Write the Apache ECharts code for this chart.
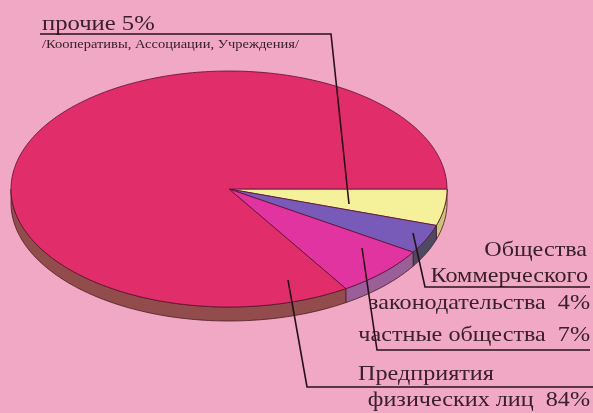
<!DOCTYPE html>
<html>
<head>
<meta charset="utf-8">
<script src="https://cdn.jsdelivr.net/npm/echarts@6/dist/echarts.min.js"></script>
<style>
  html, body { margin: 0; padding: 0; background: #f0a8c4; }
  #main { width: 593px; height: 413px; }
</style>
</head>
<body>
<div id="main"></div>
<script>
// slices, clockwise from 3 o'clock
const categories = ["прочие", "Общества Коммерческого законодательства", "частные общества", "Предприятия физических лиц"];
const shares = [5, 4, 7, 84];

const topColors = ["#f5f09a", "#785ab9", "#e134a0", "#e12d69"];
const sideColors = ["#c9c47a", "#4e4a62", "#9a5f98", "#934c4c"];

var chart = echarts.init(document.getElementById("main"), null, { renderer: "canvas" });

// ellipse layout
const cx = 229, cy = 189, rx = 218, ry = 118, depth = 14;
const total = shares.reduce((a, b) => a + b, 0);

function sliceAngles(idx) {
  let before = 0;
  for (let i = 0; i < idx; i++) before += shares[i];
  const a0 = (before / total) * Math.PI * 2;
  const a1 = ((before + shares[idx]) / total) * Math.PI * 2;
  return [a0, a1];
}

function arcPoints(a0, a1, dy) {
  const pts = [];
  const steps = Math.max(2, Math.ceil((a1 - a0) / 0.02));
  for (let k = 0; k <= steps; k++) {
    const t = a0 + ((a1 - a0) * k) / steps;
    pts.push([cx + rx * Math.cos(t), cy + ry * Math.sin(t) + dy]);
  }
  return pts;
}

function renderTop(params, api) {
  const [a0, a1] = sliceAngles(params.dataIndex);
  const pts = [[cx, cy]].concat(arcPoints(a0, a1, 0));
  return {
    type: "polygon",
    shape: { points: pts },
    style: { fill: topColors[params.dataIndex], stroke: "#5a1030", lineWidth: 0.8 },
  };
}

function renderSide(params, api) {
  let [a0, a1] = sliceAngles(params.dataIndex);
  const s = Math.max(a0, 0);
  const e = Math.min(a1, Math.PI);
  if (e <= s) return null;
  const upper = arcPoints(s, e, 0);
  const lower = arcPoints(s, e, depth).reverse();
  return {
    type: "polygon",
    shape: { points: upper.concat(lower) },
    style: { fill: sideColors[params.dataIndex], stroke: "#4a1a24", lineWidth: 0.8 },
  };
}

const labelFont = "Liberation Serif";
const labelColor = "#3a2028";
const lineColor = "#2a1018";

// text placed by baseline; scaled a bit wide like the printed original
function txt(text, x, baseline, size, align, sx) {
  return {
    type: "text",
    x: x,
    y: baseline - 0.8 * size,
    scaleX: sx || 1.15,
    style: {
      text: text,
      fontFamily: labelFont,
      fontSize: size,
      fill: labelColor,
      align: align || "left",
      verticalAlign: "top",
    },
    z: 10,
  };
}

function leader(points) {
  return {
    type: "polyline",
    shape: { points: points },
    style: { stroke: lineColor, lineWidth: 1.6, fill: null },
    z: 10,
  };
}

var option = {
  backgroundColor: "#f0a8c4",
  animation: false,
  series: [
    {
      type: "custom",
      coordinateSystem: "none",
      data: shares,
      renderItem: renderSide,
      z: 1,
      silent: true,
    },
    {
      type: "custom",
      coordinateSystem: "none",
      data: shares,
      renderItem: renderTop,
      z: 2,
      silent: true,
    },
  ],
  graphic: [
    txt("прочие " + shares[0] + "%", 42, 31, 22, "left", 1.12),
    txt("/Кооперативы, Ассоциации, Учреждения/", 42, 48, 12.5, "left", 1.16),
    leader([[40, 34], [331, 34], [349, 204]]),

    txt("Общества", 587, 257, 21, "right"),
    txt("Коммерческого", 588, 283, 21, "right"),
    txt("законодательства  " + shares[1] + "%", 590, 310, 21, "right"),
    leader([[413, 233], [425, 287], [590, 287]]),

    txt("частные общества  " + shares[2] + "%", 590, 342, 21, "right"),
    leader([[362, 248], [377, 350], [590, 350]]),

    txt("Предприятия", 358, 381, 21),
    txt("физических лиц  " + shares[3] + "%", 590, 407, 21, "right"),
    leader([[288, 280], [307, 387], [593, 387]]),
  ],
};
option && chart.setOption(option);
</script>
</body>
</html>
